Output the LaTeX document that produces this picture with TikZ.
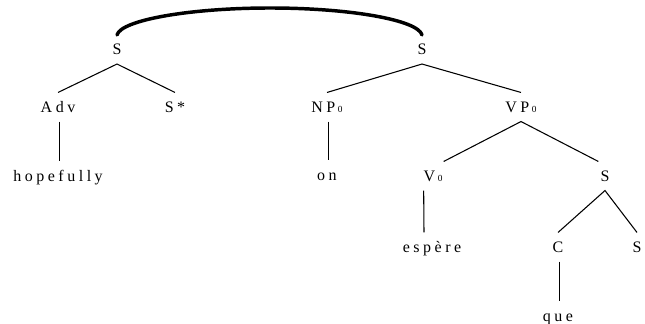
\documentclass[tikz,border=0pt]{standalone}
\usepackage{fontspec}
\setmainfont{Liberation Serif}[LetterSpace=22]
\newcommand{\tsub}[1]{\hspace{2pt}\raisebox{-0.5pt}{\scriptsize #1}}
\tikzset{
  catnode/.style={inner sep=0pt, text height=7.9pt, text depth=0pt, minimum height=21pt},
  adjlink/.style={line width=2.6pt, line cap=round}
}
\begin{document}
\begin{tikzpicture}[x=0.75pt, y=-0.75pt, line width=0.8pt, font=\fontsize{12}{14}\selectfont]
  \useasboundingbox (0,0) rectangle (645,324);
  \node[catnode] (sadv) at (117,49.5) {S};
  \node[catnode] (smain) at (422,49.5) {S};
  \node[catnode] (adv) at (58,107) {Adv};
  \node[catnode] (sstar) at (175,107) {S*};
  \node[catnode] (np) at (327,107) {NP\tsub{0}};
  \node[catnode] (vp) at (521,107) {VP\tsub{0}};
  \node[catnode] (hope) at (58,176) {hopefully};
  \node[catnode] (on) at (327,175) {on};
  \node[catnode] (v) at (433,176) {V\tsub{0}};
  \node[catnode] (scomp) at (605,176) {S};
  \node[catnode] (esp) at (432,247) {espère};
  \node[catnode] (c) at (558,247) {C};
  \node[catnode] (sarg) at (637,247) {S};
  \node[catnode] (que) at (558,316) {que};
  \coordinate (arctop) at (270,8);
  \draw[adjlink] (sadv.north) .. controls (121,20) and (190,8) .. (arctop) .. controls (350,8) and (418,20) .. (smain.north);
  \draw (adv.north) -- (sadv.south) -- (sstar.north);
  \draw (np.north) -- (smain.south) -- (vp.north);
  \draw ([xshift=8pt]v.north) -- (vp.south) -- ([xshift=-5pt]scomp.north);
  \draw (c.north) -- (scomp.south) -- (sarg.north);
  \draw ([xshift=1pt]adv.south) -- ([xshift=1pt]hope.north);
  \draw ([xshift=1pt]np.south) -- ([xshift=1pt]on.north);
  \draw ([xshift=-7pt]v.south) -- ([xshift=-6pt]esp.north);
  \draw ([xshift=1pt]c.south) -- ([xshift=1pt]que.north);
\end{tikzpicture}
\end{document}
